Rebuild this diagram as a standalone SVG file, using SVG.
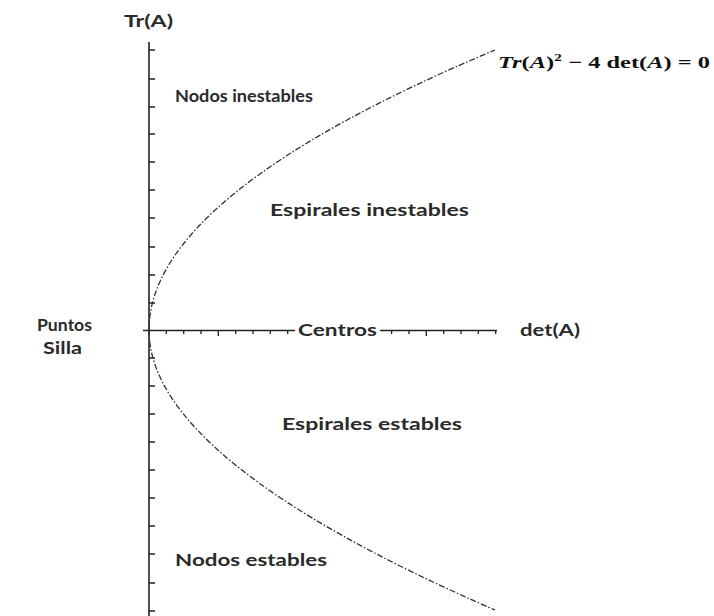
<svg xmlns="http://www.w3.org/2000/svg" width="714" height="616" viewBox="0 0 714 616">
<style>
.lbl{font-family:Lato,"Open Sans","Liberation Sans",sans-serif;font-size:17.5px;font-weight:bold;fill:#2a2a2a}
.axis{stroke:#222;stroke-width:1.6;fill:none}
.tick{stroke:#222;stroke-width:1.3;fill:none}
.curve{stroke:#333;stroke-width:1.3;fill:none;stroke-dasharray:6 2 1.5 2}
.eq{font-family:"Liberation Serif",serif;font-size:17px;font-weight:bold;fill:#111}
</style>
<rect width="714" height="616" fill="#fff"/>
<g id="axes">
<path class="axis" d="M149 42V616"/>
<path class="axis" d="M143 330.5H295M380 330.5H497"/>
<path class="tick" d="M149 50h6M149 79h6M149 107h6M149 134h6M149 162h6M149 190h6M149 218h6M149 247h6M149 275h6M149 303h6M149 358h6M149 386h6M149 414h6M149 442h6M149 470h6M149 498h6M149 526h6M149 554h6M149 583h6M149 611h6"/>
<path class="tick" d="M166.3 330v4M183.7 330v4M201 330v4M218.3 330v6M235.7 330v4M253 330v4M270.3 330v4M287.7 330v4M391.6 330v4M409 330v4M426.3 330v6M443.7 330v4M461 330v4M478.3 330v4M495.7 330v4"/>
</g>
<g id="connectors">
<path class="curve" d="M149 330Q149 195 495 50"/>
<path class="curve" d="M149 330Q149 460 495 610"/>
</g>
<g id="label-tr"><text class="lbl" x="124" y="27" textLength="49" lengthAdjust="spacingAndGlyphs">Tr(A)</text></g>
<g id="label-det"><text class="lbl" x="520" y="336" textLength="60" lengthAdjust="spacingAndGlyphs">det(A)</text></g>
<g id="label-centros"><text class="lbl" x="298" y="336" textLength="79" lengthAdjust="spacingAndGlyphs">Centros</text></g>
<g id="node-nodos-inestables"><text class="lbl" x="175" y="102" textLength="138" lengthAdjust="spacingAndGlyphs">Nodos inestables</text></g>
<g id="node-espirales-inestables"><text class="lbl" x="270" y="216" textLength="199" lengthAdjust="spacingAndGlyphs">Espirales inestables</text></g>
<g id="node-puntos-silla"><text class="lbl" x="37" y="331" textLength="55" lengthAdjust="spacingAndGlyphs">Puntos</text><text class="lbl" x="43" y="354" textLength="39" lengthAdjust="spacingAndGlyphs">Silla</text></g>
<g id="node-espirales-estables"><text class="lbl" x="282" y="430" textLength="180" lengthAdjust="spacingAndGlyphs">Espirales estables</text></g>
<g id="node-nodos-estables"><text class="lbl" x="175" y="566" textLength="152" lengthAdjust="spacingAndGlyphs">Nodos estables</text></g>
<g id="equation"><text class="eq" x="498" y="68" textLength="212" lengthAdjust="spacingAndGlyphs"><tspan font-style="italic">Tr</tspan>(<tspan font-style="italic">A</tspan>)<tspan dy="-7" font-size="11">2</tspan><tspan dy="7"> − 4 det(</tspan><tspan font-style="italic">A</tspan>) = 0</text></g>
</svg>
